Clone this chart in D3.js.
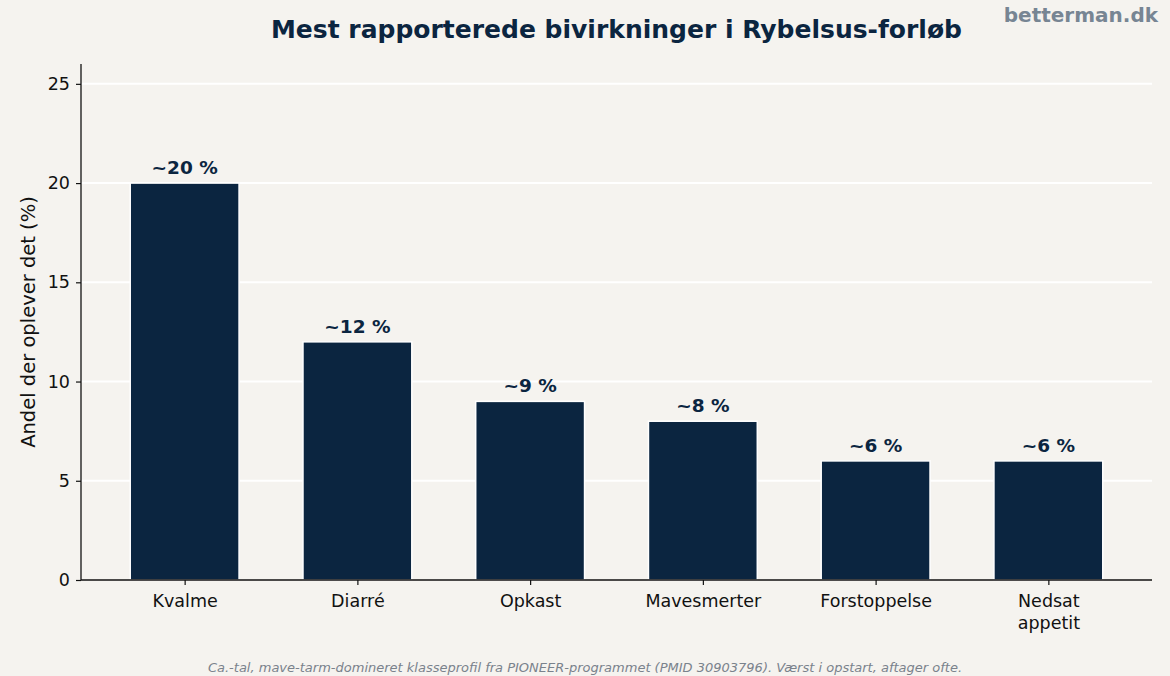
<!DOCTYPE html>
<html>
<head>
<meta charset="utf-8">
<script src="https://cdn.jsdelivr.net/npm/d3@7"></script>
<style>
  body { margin: 0; background: #f5f3ef; }
  svg { display: block; font-family: "DejaVu Sans", sans-serif; }
</style>
</head>
<body>
<div id="wrapper"></div>
<script>
// data
const categories = ["Kvalme", "Diarré", "Opkast", "Mavesmerter", "Forstoppelse", "Nedsat\nappetit"];
const values = [20, 12, 9, 8, 6, 6];
const valueLabels = ["~20 %", "~12 %", "~9 %", "~8 %", "~6 %", "~6 %"];
const yTicks = [0, 5, 10, 15, 20, 25];

const width = 1170;
const height = 676;
const margin = { top: 64, right: 18, bottom: 96, left: 81 };
const boundedWidth = width - margin.left - margin.right;
const boundedHeight = height - margin.top - margin.bottom;

const navy = "#0b2540";
const font = "DejaVu Sans";

const svg = d3.select("#wrapper").append("svg")
  .attr("width", width)
  .attr("height", height);

svg.append("rect").attr("width", width).attr("height", height).attr("fill", "#f5f3ef");

const bounds = svg.append("g")
  .attr("transform", `translate(${margin.left},${margin.top})`);

// scales
const xScale = d3.scaleLinear()
  .domain([-0.6, categories.length - 0.4])
  .range([0, boundedWidth]);
const barWidth = xScale(0.63) - xScale(0);

const yScale = d3.scaleLinear()
  .domain([0, 26])
  .range([boundedHeight, 0]);

// grid
bounds.append("g")
  .selectAll("line")
  .data(yTicks.filter(d => d > 0))
  .join("line")
  .attr("x1", 0)
  .attr("x2", boundedWidth)
  .attr("y1", d => yScale(d))
  .attr("y2", d => yScale(d))
  .attr("stroke", "#ffffff")
  .attr("stroke-width", 2);

// bars
bounds.append("g")
  .selectAll("rect")
  .data(values)
  .join("rect")
  .attr("x", (d, i) => xScale(i) - barWidth / 2)
  .attr("y", d => yScale(d))
  .attr("width", barWidth)
  .attr("height", d => boundedHeight - yScale(d))
  .attr("fill", navy)
  .attr("stroke", "#ffffff")
  .attr("stroke-width", 1.5);

bounds.append("g")
  .selectAll("text")
  .data(values)
  .join("text")
  .attr("x", (d, i) => xScale(i))
  .attr("y", d => yScale(d) - 9)
  .attr("text-anchor", "middle")
  .attr("fill", navy)
  .style("font-size", "18.5px")
  .style("font-weight", "bold")
  .text((d, i) => valueLabels[i]);

// axes
const yAxis = bounds.append("g")
  .call(d3.axisLeft(yScale).tickValues(yTicks).tickSize(5).tickPadding(6));
const xAxis = bounds.append("g")
  .attr("transform", `translate(0,${boundedHeight})`)
  .call(d3.axisBottom(xScale).tickValues(d3.range(categories.length)).tickSize(5).tickPadding(7).tickFormat(""));

[yAxis, xAxis].forEach(ax => {
  ax.attr("font-family", font).attr("font-size", 17.5);
  ax.select(".domain").attr("stroke", "#111").attr("stroke-width", 1.3);
  ax.selectAll(".tick line").attr("stroke", "#111").attr("stroke-width", 1.2);
  ax.selectAll(".tick text").attr("fill", "#111");
});
yAxis.select(".domain").attr("d", `M0,${boundedHeight}V0`);
xAxis.select(".domain").attr("d", `M0,0H${boundedWidth}`);

xAxis.selectAll(".tick").each(function (d) {
  const lines = categories[d].split("\n");
  d3.select(this).select("text").remove();
  const t = d3.select(this).append("text")
    .attr("fill", "#111")
    .attr("text-anchor", "middle");
  lines.forEach((l, j) => {
    t.append("tspan").attr("x", 0).attr("y", 27 + j * 22).text(l);
  });
});

// labels
svg.append("text")
  .attr("transform", `translate(35,${margin.top + boundedHeight / 2}) rotate(-90)`)
  .attr("text-anchor", "middle")
  .attr("fill", "#111")
  .style("font-size", "19.5px")
  .text("Andel der oplever det (%)");

svg.append("text")
  .attr("x", margin.left + boundedWidth / 2)
  .attr("y", 38)
  .attr("text-anchor", "middle")
  .attr("fill", navy)
  .style("font-size", "25px")
  .style("font-weight", "bold")
  .text("Mest rapporterede bivirkninger i Rybelsus-forløb");

svg.append("text")
  .attr("x", 1158)
  .attr("y", 22)
  .attr("text-anchor", "end")
  .attr("fill", "#778593")
  .style("font-size", "20px")
  .style("font-weight", "bold")
  .text("betterman.dk");

svg.append("text")
  .attr("x", 585)
  .attr("y", 672)
  .attr("text-anchor", "middle")
  .attr("fill", "#7a828c")
  .style("font-size", "13px")
  .style("font-style", "italic")
  .text("Ca.-tal, mave-tarm-domineret klasseprofil fra PIONEER-programmet (PMID 30903796). Værst i opstart, aftager ofte.");
</script>
</body>
</html>
